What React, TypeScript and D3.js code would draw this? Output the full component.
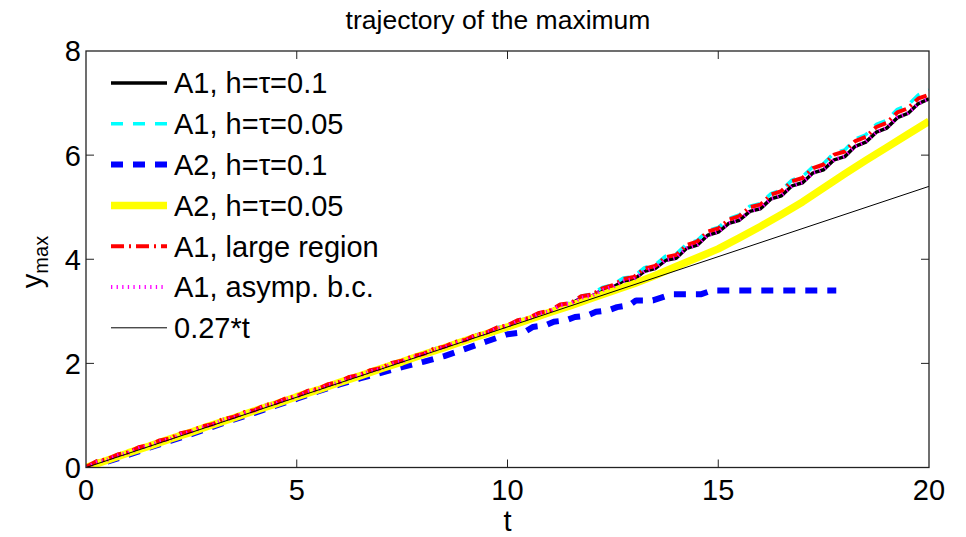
import React from 'react';
import * as d3 from 'd3';

// time grids
const tQ = [0, 0.25, 0.5, 0.75, 1, 1.25, 1.5, 1.75, 2, 2.25, 2.5, 2.75, 3, 3.25, 3.5, 3.75, 4, 4.25, 4.5, 4.75,
  5, 5.25, 5.5, 5.75, 6, 6.25, 6.5, 6.75, 7, 7.25, 7.5, 7.75, 8, 8.25, 8.5, 8.75, 9, 9.25, 9.5, 9.75,
  10, 10.25, 10.5, 10.75, 11, 11.25, 11.5, 11.75, 12, 12.25, 12.5, 12.75, 13, 13.25, 13.5, 13.75, 14, 14.25, 14.5, 14.75,
  15, 15.25, 15.5, 15.75, 16, 16.25, 16.5, 16.75, 17, 17.25, 17.5, 17.75, 18, 18.25, 18.5, 18.75, 19, 19.25, 19.5, 19.75, 20];
const tH = [0, 0.5, 1, 1.5, 2, 2.5, 3, 3.5, 4, 4.5, 5, 5.5, 6, 6.5, 7, 7.5, 8, 8.5, 9, 9.5,
  10, 10.5, 11, 11.5, 12, 12.5, 13, 13.5, 14, 14.5, 15, 15.5, 16, 16.5, 17, 17.5, 18, 18.5, 19, 19.5, 20];

// A1, h=tau=0.1
const a1_01 = [0.00, 0.11, 0.14, 0.24, 0.27, 0.38, 0.41, 0.51, 0.54, 0.65, 0.68, 0.78, 0.81, 0.92, 0.95, 1.05, 1.08, 1.19, 1.22, 1.32,
  1.35, 1.46, 1.49, 1.59, 1.62, 1.73, 1.76, 1.86, 1.89, 2.00, 2.03, 2.13, 2.16, 2.27, 2.30, 2.40, 2.43, 2.54, 2.57, 2.68,
  2.71, 2.82, 2.85, 2.96, 2.99, 3.11, 3.14, 3.26, 3.29, 3.41, 3.46, 3.58, 3.61, 3.77, 3.82, 3.98, 4.02, 4.21, 4.27, 4.46,
  4.52, 4.69, 4.75, 4.92, 4.97, 5.16, 5.22, 5.41, 5.47, 5.66, 5.72, 5.91, 5.97, 6.17, 6.25, 6.44, 6.52, 6.72, 6.80, 6.99, 7.08];
// A1, h=tau=0.05
const a1_005 = [0.01, 0.12, 0.15, 0.25, 0.28, 0.39, 0.42, 0.52, 0.55, 0.66, 0.69, 0.79, 0.82, 0.93, 0.96, 1.06, 1.09, 1.20, 1.23, 1.33,
  1.36, 1.47, 1.50, 1.60, 1.63, 1.74, 1.77, 1.87, 1.90, 2.01, 2.04, 2.14, 2.17, 2.28, 2.31, 2.41, 2.44, 2.55, 2.58, 2.69,
  2.72, 2.83, 2.86, 2.97, 3.00, 3.12, 3.16, 3.29, 3.33, 3.46, 3.51, 3.64, 3.67, 3.84, 3.89, 4.06, 4.10, 4.29, 4.36, 4.55,
  4.61, 4.78, 4.85, 5.02, 5.07, 5.26, 5.33, 5.52, 5.59, 5.78, 5.84, 6.04, 6.10, 6.31, 6.39, 6.59, 6.67, 6.88, 6.96, 7.16, 7.25];
// A1, large region
const a1_large = [0.01, 0.12, 0.16, 0.25, 0.29, 0.39, 0.43, 0.52, 0.56, 0.66, 0.70, 0.79, 0.83, 0.93, 0.97, 1.06, 1.10, 1.20, 1.24, 1.33,
  1.37, 1.47, 1.51, 1.60, 1.64, 1.74, 1.78, 1.87, 1.91, 2.01, 2.05, 2.14, 2.18, 2.28, 2.32, 2.41, 2.45, 2.55, 2.59, 2.69,
  2.73, 2.83, 2.87, 2.97, 3.01, 3.13, 3.16, 3.29, 3.32, 3.44, 3.50, 3.62, 3.66, 3.82, 3.87, 4.04, 4.08, 4.27, 4.34, 4.53,
  4.59, 4.76, 4.83, 5.00, 5.05, 5.24, 5.31, 5.50, 5.56, 5.75, 5.82, 6.01, 6.07, 6.27, 6.35, 6.54, 6.62, 6.82, 6.90, 7.09, 7.16];
// A1, asymp. b.c.
const a1_asymp = [0.00, 0.10, 0.15, 0.23, 0.28, 0.37, 0.42, 0.50, 0.55, 0.64, 0.69, 0.77, 0.82, 0.91, 0.96, 1.04, 1.09, 1.18, 1.23, 1.31,
  1.36, 1.45, 1.50, 1.58, 1.63, 1.72, 1.77, 1.85, 1.90, 1.99, 2.04, 2.12, 2.17, 2.26, 2.31, 2.39, 2.44, 2.53, 2.58, 2.67,
  2.72, 2.81, 2.86, 2.95, 3.00, 3.11, 3.15, 3.26, 3.30, 3.41, 3.47, 3.58, 3.62, 3.77, 3.83, 3.98, 4.03, 4.21, 4.28, 4.46,
  4.53, 4.69, 4.76, 4.92, 4.98, 5.16, 5.23, 5.41, 5.48, 5.66, 5.73, 5.91, 5.98, 6.17, 6.26, 6.44, 6.53, 6.72, 6.81, 6.99, 7.09];
// A2, h=tau=0.05
const a2_005 = [0.00, 0.14, 0.28, 0.41, 0.55, 0.68, 0.82, 0.95, 1.09, 1.22, 1.36, 1.49, 1.63, 1.76, 1.90, 2.03, 2.17, 2.30, 2.44, 2.57,
  2.70, 2.84, 2.98, 3.11, 3.25, 3.39, 3.53, 3.69, 3.86, 4.03, 4.20, 4.41, 4.63, 4.86, 5.10, 5.37, 5.64, 5.90, 6.15, 6.40, 6.65];
// A2, h=tau=0.1 (stops early)
const a2_01_t = [0, 0.5, 1, 1.5, 2, 2.5, 3, 3.5, 4, 4.5, 5, 5.5, 6, 6.5, 7, 7.5, 8, 8.5, 9, 9.5,
  10, 10.4, 10.6, 10.9, 11.1, 11.4, 11.6, 11.9, 12.1, 12.4, 12.6, 12.9, 13.05, 13.45, 13.9, 14.6, 14.85, 17.8];
const a2_01 = [0.00, 0.11, 0.24, 0.38, 0.51, 0.64, 0.78, 0.92, 1.05, 1.19, 1.32, 1.46, 1.59, 1.71, 1.82, 1.93, 2.03, 2.14, 2.28, 2.42,
  2.56, 2.60, 2.70, 2.73, 2.80, 2.83, 2.89, 2.92, 2.99, 3.02, 3.08, 3.12, 3.21, 3.21, 3.33, 3.33, 3.40, 3.40];
// 0.27*t reference line
const refT = [0, 20];
const refY = [0, 5.4];

const xTicks = [0, 5, 10, 15, 20];
const yTicks = [0, 2, 4, 6, 8];

type Series = {
  label: string; t: number[]; y: number[]; color: string; width: number; dash?: string;
};

const series: Series[] = [
  { label: 'A1, h=τ=0.1', t: tQ, y: a1_01, color: '#000000', width: 3.5 },
  { label: 'A1, h=τ=0.05', t: tQ, y: a1_005, color: '#00ffff', width: 3.5, dash: '12 10' },
  { label: 'A2, h=τ=0.1', t: a2_01_t, y: a2_01, color: '#0000ff', width: 6, dash: '12 10' },
  { label: 'A2, h=τ=0.05', t: tH, y: a2_005, color: '#ffff00', width: 7.5 },
  { label: 'A1, large region', t: tQ, y: a1_large, color: '#ff0000', width: 4, dash: '13 5 2 5' },
  { label: 'A1, asymp. b.c.', t: tQ, y: a1_asymp, color: '#ff00ff', width: 4, dash: '1.3 4.3' },
  { label: '0.27*t', t: refT, y: refY, color: '#000000', width: 1 },
];

const W = 966, H = 537;
const left = 86, right = 929, top = 51, bottom = 467.5;
const font = '"Liberation Sans", Arial, Helvetica, sans-serif';
const fs = 29;

export default function App() {
  const x = d3.scaleLinear().domain([0, 20]).range([left, right]);
  const y = d3.scaleLinear().domain([0, 8]).range([bottom, top]);
  const line = (s: Series) =>
    d3.line<number>().x((_, i) => x(s.t[i])).y((v) => y(v))(s.y) || '';

  const legX0 = 111, legX1 = 167, legTextX = 174, legY0 = 83, legDy = 40.8;

  return (
    <svg width={W} height={H} style={{ position: 'absolute', left: 0, top: 0, background: '#fff' }}
      fontFamily={font}>
      <rect x={0} y={0} width={W} height={H} fill="#fff" />
      <defs>
        <clipPath id="plot">
          <rect x={left} y={top} width={right - left} height={bottom - top} />
        </clipPath>
      </defs>
      <g clipPath="url(#plot)">
        {series.map((s, i) => (
          <path key={i} d={line(s)} fill="none" stroke={s.color} strokeWidth={s.width}
            strokeDasharray={s.dash} strokeLinejoin="round" />
        ))}
      </g>
      {/* axes box */}
      <rect x={left} y={top} width={right - left} height={bottom - top} fill="none" stroke="#222" strokeWidth={1.3} />
      {xTicks.slice(1, -1).map((v) => (
        <g key={'xt' + v}>
          <line x1={x(v)} x2={x(v)} y1={bottom} y2={bottom - 8} stroke="#222" strokeWidth={1} />
          <line x1={x(v)} x2={x(v)} y1={top} y2={top + 8} stroke="#222" strokeWidth={1} />
        </g>
      ))}
      {yTicks.slice(1, -1).map((v) => (
        <g key={'yt' + v}>
          <line x1={left} x2={left + 8} y1={y(v)} y2={y(v)} stroke="#222" strokeWidth={1} />
          <line x1={right} x2={right - 8} y1={y(v)} y2={y(v)} stroke="#222" strokeWidth={1} />
        </g>
      ))}
      {xTicks.map((v) => (
        <text key={'xl' + v} x={x(v)} y={500} textAnchor="middle" fontSize={fs} fill="#000">{v}</text>
      ))}
      {yTicks.map((v) => (
        <text key={'yl' + v} x={left - 5} y={y(v)} dy="0.36em" textAnchor="end" fontSize={fs} fill="#000">{v}</text>
      ))}
      <text x={(left + right) / 2} y={531} textAnchor="middle" fontSize={fs} fill="#000">t</text>
      <text transform={`translate(42, 262) rotate(-90)`} textAnchor="middle" fontSize={fs} fill="#000">
        y<tspan fontSize={20} dy={6}>max</tspan>
      </text>
      <text x={498} y={29} textAnchor="middle" fontSize={26.5} fill="#000">trajectory of the maximum</text>
      {/* legend */}
      {series.map((s, i) => {
        const ly = legY0 + i * legDy;
        return (
          <g key={'lg' + i}>
            <line x1={legX0} x2={legX1} y1={ly} y2={ly} stroke={s.color} strokeWidth={s.width}
              strokeDasharray={s.dash} />
            <text x={legTextX} y={ly} dy="0.36em" fontSize={fs} fill="#000">{s.label}</text>
          </g>
        );
      })}
    </svg>
  );
}
